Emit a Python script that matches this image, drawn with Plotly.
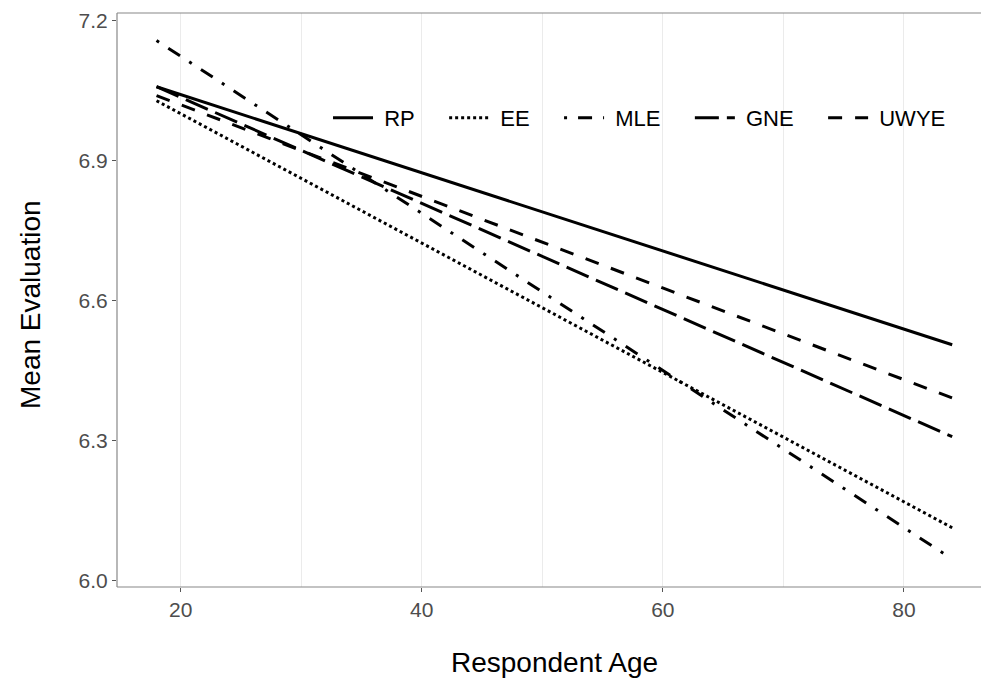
import plotly.graph_objects as go

age = [18, 84]
series_names = ["RP", "EE", "MLE", "GNE", "UWYE"]
rp = [7.059, 6.506]
ee = [7.029, 6.114]
mle = [7.158, 6.047]
gne = [7.059, 6.309]
uwye = [7.040, 6.392]
x_ticks = [20, 40, 60, 80]
y_ticks = [6.0, 6.3, 6.6, 6.9, 7.2]

values = [rp, ee, mle, gne, uwye]
dashes = ["solid", "3px,3px", "3px,11px,14px,11px", "24px,8px", "14px,13px"]

NB = "\u00a0"
fig = go.Figure()
for i, (name, vals, d) in enumerate(zip(series_names, values, dashes)):
    label = NB + name + (NB * 4 if i < len(series_names) - 1 else "")
    fig.add_trace(go.Scatter(x=age, y=vals, mode="lines", name=label,
                             line=dict(color="black", width=3, dash=d)))

font = "Liberation Sans, Arial, sans-serif"
border = dict(color="#888888", width=1.2)
fig.update_layout(
    width=981, height=681,
    margin=dict(l=117, r=0, t=13, b=94),
    paper_bgcolor="white", plot_bgcolor="white",
    font=dict(family=font, color="black"),
    showlegend=True,
    legend=dict(orientation="h", x=0.9653, xanchor="right", y=0.817, yanchor="middle",
                bgcolor="rgba(0,0,0,0)", font=dict(size=22, family=font, color="black"),
                itemwidth=40, tracegroupgap=0),
    xaxis=dict(range=[14.72, 86.39], tickvals=x_ticks, ticktext=[str(v) for v in x_ticks],
               showgrid=True, gridcolor="#ebebeb", gridwidth=1.2,
               minor=dict(dtick=10, tick0=0, showgrid=True, gridcolor="#ebebeb", gridwidth=1.2),
               showline=False,
               ticks="outside", ticklen=4, tickcolor="#555555",
               tickfont=dict(size=21, color="#4d4d4d", family=font),
               zeroline=False),
    yaxis=dict(range=[5.987, 7.217], tickvals=y_ticks, ticktext=[f"{v:.1f}" for v in y_ticks],
               showgrid=False, showline=False,
               ticks="outside", ticklen=4, tickcolor="#555555",
               tickfont=dict(size=21, color="#4d4d4d", family=font),
               zeroline=False),
    shapes=[
        dict(type="line", xref="paper", yref="paper", x0=0, x1=1.2, y0=1, y1=1, line=border, layer="above"),
        dict(type="line", xref="paper", yref="paper", x0=0, x1=1.2, y0=0, y1=0, line=border, layer="above"),
        dict(type="line", xref="paper", yref="paper", x0=0, x1=0, y0=0, y1=1, line=border, layer="above"),
    ],
    annotations=[
        dict(text="Respondent Age", xref="paper", yref="paper", x=0.506, y=-0.1307,
             xanchor="center", yanchor="middle", showarrow=False,
             font=dict(size=28, family=font, color="black")),
        dict(text="Mean Evaluation", xref="paper", yref="paper", x=-0.1007, y=0.493,
             xanchor="center", yanchor="middle", textangle=-90, showarrow=False,
             font=dict(size=28, family=font, color="black")),
    ],
)

fig.write_html("out.html")
